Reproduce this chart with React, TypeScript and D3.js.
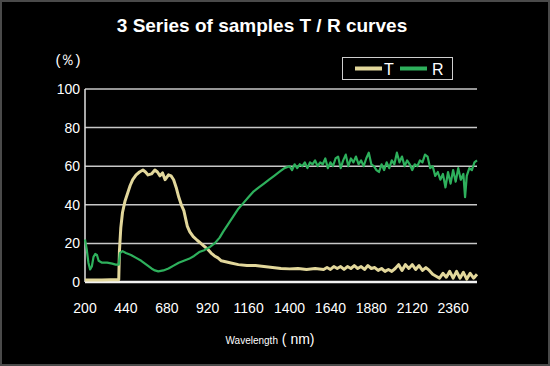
import React from "react";
import * as d3 from "d3";

const xTicks = [200, 440, 680, 920, 1160, 1400, 1640, 1880, 2120, 2360];
const yTicks = [0, 20, 40, 60, 80, 100];

const tWl = [200, 250, 300, 350, 398, 402, 410, 420, 435, 450, 465, 480, 500, 520, 540, 555, 570, 590, 610, 625, 640, 655, 670, 690, 705, 720, 735, 750, 765, 780, 790, 800, 815, 835, 860, 880, 900, 920, 940, 960, 980, 1000, 1050, 1100, 1150, 1200, 1250, 1300, 1350, 1400, 1450, 1500, 1550, 1600, 1620, 1640, 1660, 1680, 1700, 1720, 1740, 1760, 1780, 1800, 1820, 1840, 1860, 1880, 1900, 1920, 1940, 1960, 1980, 2000, 2020, 2040, 2060, 2080, 2100, 2120, 2140, 2160, 2180, 2200, 2220, 2240, 2260, 2280, 2300, 2320, 2340, 2360, 2380, 2400, 2420, 2440, 2460, 2480, 2500];
const tVal = [1, 1, 1, 1.2, 1.2, 16, 28, 36, 42, 46, 50, 53, 55.5, 57, 58, 57, 55.5, 56, 58, 57, 55, 56.5, 53, 55.5, 55, 53, 49, 44, 40, 37, 33, 29, 26, 23.5, 21.5, 20, 18.5, 17, 15, 13.5, 12.5, 11, 10, 9, 8.5, 8.5, 8, 7.5, 7, 6.8, 7, 6.5, 7, 6.5, 7.5, 6.5, 8, 7, 8, 6.5, 8, 7, 8.5, 7, 8, 6.5, 8.5, 7, 7.5, 6, 7, 5.5, 6.5, 5.5, 7, 9, 6, 9, 7, 9, 6.5, 8.5, 6, 7.5, 6, 4, 3, 2, 4.5, 2.5, 5.5, 2, 5.5, 2, 5, 1.5, 4.5, 2, 4];

const rWl = [200, 210, 220, 230, 240, 250, 260, 270, 280, 300, 330, 360, 380, 398, 405, 420, 440, 470, 500, 530, 560, 590, 610, 630, 660, 690, 720, 750, 780, 810, 840, 870, 900, 930, 960, 990, 1010, 1040, 1070, 1100, 1130, 1160, 1190, 1220, 1250, 1280, 1310, 1340, 1370, 1400, 1415, 1430, 1445, 1460, 1475, 1490, 1505, 1520, 1535, 1550, 1565, 1580, 1595, 1610, 1625, 1640, 1655, 1670, 1685, 1700, 1715, 1730, 1745, 1760, 1775, 1790, 1805, 1820, 1835, 1850, 1865, 1880, 1895, 1910, 1925, 1940, 1955, 1970, 1985, 2000, 2015, 2030, 2045, 2060, 2075, 2090, 2105, 2120, 2135, 2150, 2165, 2180, 2195, 2210, 2225, 2240, 2255, 2270, 2285, 2300, 2315, 2330, 2345, 2360, 2375, 2390, 2405, 2420, 2430, 2440, 2455, 2470, 2485, 2500];
const rVal = [22, 17, 10, 6.5, 8, 13, 14.5, 14, 11, 10, 10, 9.5, 9, 9, 15, 16, 15, 14, 12.5, 11, 9, 7, 6, 5.5, 6, 7, 8.5, 10, 11, 12, 13.5, 15.5, 16.5, 18, 20, 23, 26, 30, 34, 38, 41, 44, 47, 49, 51, 53, 55, 57, 59, 60, 58, 61, 59, 61, 60, 62, 59, 62, 61, 63, 60, 62, 61, 64, 59, 62, 60, 64, 65, 59, 63, 66, 60, 64, 62, 65, 61, 63, 60, 64, 67, 61, 60, 58, 57, 61, 58, 62, 59, 63, 61, 67, 62, 65, 60, 63, 61, 58, 61, 60, 63, 62, 66, 65, 59, 60, 55, 57, 53, 56, 49, 57, 51, 58, 52, 59, 53, 56, 44, 55, 59, 58, 62, 63];

const W = 550, H = 366;
const m = { left: 85, right: 477, top: 89, bottom: 282 };
const T_COLOR = "#e2d79b";
const R_COLOR = "#2eb05c";
const FONT = "'Liberation Sans', Arial, sans-serif";

export default function App() {
  const x = d3.scaleLinear().domain([200, 2500]).range([m.left, m.right]);
  const y = d3.scaleLinear().domain([0, 100]).range([m.bottom, m.top]);
  const line = d3
    .line<[number, number]>()
    .x((d) => x(d[0]))
    .y((d) => y(d[1]));
  const tPath = line(tWl.map((w, i) => [w, tVal[i]] as [number, number])) || "";
  const rPath = line(rWl.map((w, i) => [w, rVal[i]] as [number, number])) || "";

  return (
    <svg width={W} height={H} style={{ position: "absolute", left: 0, top: 0 }} fontFamily={FONT}>
      <rect x={0} y={0} width={W} height={H} fill="#000" />
      <rect x={1} y={1} width={W - 2} height={H - 2} fill="none" stroke="#4a4a4a" strokeWidth={2} />
      <text x={262} y={32} textAnchor="middle" fill="#fff" fontSize={19} fontWeight="bold">
        3 Series of samples T / R curves
      </text>
      <text x={68} y={65} textAnchor="middle" fill="#fff" fontSize={15}>
        (％)
      </text>
      {yTicks.map((t) => (
        <g key={t}>
          <line x1={m.left} x2={m.right} y1={y(t)} y2={y(t)} stroke={t === 0 ? "#f2f2f2" : "#c8c8c8"} strokeWidth={t === 0 ? 2.5 : 1.5} />
          <text x={80} y={y(t) + 5} textAnchor="end" fill="#fff" fontSize={14}>
            {t}
          </text>
        </g>
      ))}
      <line x1={m.left} x2={m.left} y1={m.top} y2={m.bottom} stroke="#e0e0e0" strokeWidth={1.5} />
      {xTicks.map((t) => (
        <text key={t} x={x(t)} y={313} textAnchor="middle" fill="#fff" fontSize={14}>
          {t}
        </text>
      ))}
      <text x={270} y={344} textAnchor="middle" fill="#fff">
        <tspan fontSize={10}>Wavelength</tspan>
        <tspan fontSize={14}> ( nm)</tspan>
      </text>
      <path d={tPath} fill="none" stroke={T_COLOR} strokeWidth={3} strokeLinejoin="round" />
      <path d={rPath} fill="none" stroke={R_COLOR} strokeWidth={2.2} strokeLinejoin="round" />
      <rect x={342.5} y={57.5} width={110} height={22} fill="#000" stroke="#cfcfcf" strokeWidth={1} />
      <line x1={355} x2={382} y1={68.5} y2={68.5} stroke={T_COLOR} strokeWidth={4} />
      <text x={384} y={75} fill="#fff" fontSize={16}>T</text>
      <line x1={400} x2={427} y1={68.5} y2={68.5} stroke={R_COLOR} strokeWidth={4} />
      <text x={432} y={75} fill="#fff" fontSize={16}>R</text>
    </svg>
  );
}
